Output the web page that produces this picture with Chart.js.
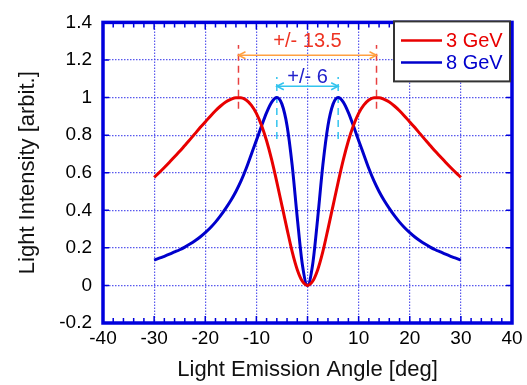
<!DOCTYPE html>
<html>
<head>
<meta charset="utf-8">
<script src="https://cdn.jsdelivr.net/npm/chart.js@4.4.1/dist/chart.umd.min.js"></script>
<style>
  html, body { margin: 0; padding: 0; background: #fff; }
  #wrap { width: 527px; height: 385px; }
</style>
</head>
<body>
<div id="wrap"><canvas id="myChart"></canvas></div>
<script>
// emission angle [deg]
const angles = [-30, -29, -28, -27, -26, -25, -24, -23, -22, -21, -20, -19, -18, -17, -16, -15, -14, -13, -12, -11,
  -10, -9, -8, -7, -6, -5, -4, -3, -2, -1, 0, 1, 2, 3, 4, 5, 6, 7, 8, 9, 10,
  11, 12, 13, 14, 15, 16, 17, 18, 19, 20, 21, 22, 23, 24, 25, 26, 27, 28, 29, 30];

// light intensity
const gev3 = [0.575, 0.601, 0.628, 0.656, 0.685, 0.714, 0.745, 0.776, 0.808, 0.84, 0.87, 0.901, 0.93, 0.955, 0.976,
  0.99, 0.999, 0.999, 0.987, 0.96, 0.916, 0.853, 0.77, 0.668, 0.55, 0.425, 0.30, 0.18, 0.084, 0.022, 0,
  0.022, 0.084, 0.18, 0.30, 0.425, 0.55, 0.668, 0.77, 0.853, 0.916, 0.96, 0.987, 0.999, 0.999, 0.99,
  0.976, 0.955, 0.93, 0.901, 0.87, 0.84, 0.808, 0.776, 0.745, 0.714, 0.685, 0.656, 0.628, 0.601, 0.575];
const gev8 = [0.135, 0.145, 0.155, 0.166, 0.178, 0.19, 0.204, 0.22, 0.238, 0.258, 0.281, 0.307, 0.337, 0.371, 0.41,
  0.452, 0.5, 0.556, 0.622, 0.697, 0.772, 0.848, 0.92, 0.976, 1.0, 0.965, 0.85, 0.64, 0.36, 0.11, 0,
  0.11, 0.36, 0.64, 0.85, 0.965, 1.0, 0.976, 0.92, 0.848, 0.772, 0.697, 0.622, 0.556, 0.5, 0.452,
  0.41, 0.371, 0.337, 0.307, 0.281, 0.258, 0.238, 0.22, 0.204, 0.19, 0.178, 0.166, 0.155, 0.145, 0.135];

const seriesNames = ['3 GeV', '8 GeV'];
const seriesColors = ['#e80000', '#0000cc'];

// peak-angle markers: half width, dashed line range, arrow level, label level
const markHalf = [13.5, 6];
const markLow = [0.94, 0.78];
const markHigh = [1.28, 1.11];
const arrowLevel = [1.225, 1.06];
const labelLevel = [1.30, 1.105];
const markLabels = ['+/- 13.5', '+/- 6'];
const dashColors = ['#e84040', '#33c4ee'];
const arrowColors = ['#ffa040', '#33c4ee'];
const labelColors = ['#ee3322', '#2222cc'];

const xTicks = [-40, 50, 10];
const yTicks = [-0.2, 1.4, 0.2];

const FONT = "'Liberation Sans', Arial, sans-serif";

function curve(vals) {
  return angles.map((a, i) => ({x: a, y: vals[i]}));
}

let datasets = [
  {data: curve(gev3), borderColor: seriesColors[0], borderWidth: 3, pointRadius: 0,
    cubicInterpolationMode: 'monotone', fill: false},
  {data: curve(gev8), borderColor: seriesColors[1], borderWidth: 3, pointRadius: 0,
    cubicInterpolationMode: 'monotone', fill: false},
];
for (let k = 0; k < markHalf.length; k++) {
  for (let s of [-1, 1]) {
    datasets.push({
      data: [{x: s * markHalf[k], y: markLow[k]}, {x: s * markHalf[k], y: markHigh[k]}],
      borderColor: dashColors[k], borderWidth: 1.5, borderDash: [7, 5], pointRadius: 0, fill: false,
    });
  }
  datasets.push({
    data: [{x: -markHalf[k], y: arrowLevel[k]}, {x: markHalf[k], y: arrowLevel[k]}],
    borderColor: arrowColors[k], borderWidth: 1.5, pointRadius: 0, fill: false,
  });
}

const overlay = {
  id: 'overlay',
  afterDatasetsDraw(chart) {
    const {ctx, chartArea: a, scales: {x, y}} = chart;
    ctx.save();

    // arrow heads
    for (let k = 0; k < markHalf.length; k++) {
      const yy = y.getPixelForValue(arrowLevel[k]);
      for (let s of [-1, 1]) {
        const xx = x.getPixelForValue(s * markHalf[k]);
        ctx.beginPath();
        ctx.moveTo(xx - s * 7, yy - 3.5);
        ctx.lineTo(xx, yy);
        ctx.lineTo(xx - s * 7, yy + 3.5);
        ctx.strokeStyle = arrowColors[k];
        ctx.lineWidth = 1.5;
        ctx.stroke();
      }
      ctx.font = '20px ' + FONT;
      ctx.fillStyle = labelColors[k];
      ctx.textAlign = 'center';
      ctx.textBaseline = 'middle';
      ctx.fillText(markLabels[k], x.getPixelForValue(0), y.getPixelForValue(labelLevel[k]));
    }

    // inward tick marks
    ctx.strokeStyle = '#0000dd';
    ctx.lineWidth = 1.5;
    for (let v = xTicks[0]; v <= xTicks[1] - xTicks[2]; v += 2) {
      const xx = x.getPixelForValue(v);
      const len = (v % 10 === 0) ? 7 : 5;
      ctx.beginPath();
      ctx.moveTo(xx, a.bottom); ctx.lineTo(xx, a.bottom - len);
      ctx.moveTo(xx, a.top); ctx.lineTo(xx, a.top + len);
      ctx.stroke();
    }
    for (let i = 0; i <= 8; i++) {
      const yy = y.getPixelForValue(yTicks[0] + i * yTicks[2]);
      ctx.beginPath();
      ctx.moveTo(a.left, yy); ctx.lineTo(a.left + 6, yy);
      ctx.moveTo(a.right, yy); ctx.lineTo(a.right - 6, yy);
      ctx.stroke();
    }

    // frame
    ctx.strokeStyle = '#0000dd';
    ctx.lineWidth = 3.5;
    ctx.strokeRect(a.left, a.top, a.right - a.left, a.bottom - a.top);

    // legend box
    const bx = a.right - 118, by = a.top - 1, bw = 116, bh = 60;
    ctx.fillStyle = '#fff';
    ctx.fillRect(bx, by, bw, bh);
    ctx.strokeStyle = '#333';
    ctx.lineWidth = 2;
    ctx.strokeRect(bx, by, bw, bh);
    ctx.font = '20px ' + FONT;
    ctx.textAlign = 'left';
    ctx.textBaseline = 'middle';
    for (let i = 0; i < seriesNames.length; i++) {
      const ly = by + 19 + i * 22;
      ctx.beginPath();
      ctx.moveTo(bx + 7, ly); ctx.lineTo(bx + 48, ly);
      ctx.strokeStyle = seriesColors[i];
      ctx.lineWidth = 2.5;
      ctx.stroke();
      ctx.fillStyle = seriesColors[i];
      ctx.fillText(seriesNames[i], bx + 52, ly + 1);
    }
    ctx.restore();
  }
};

new Chart(document.getElementById('myChart'), {
  type: 'line',
  data: {datasets: datasets},
  options: {
    responsive: true,
    maintainAspectRatio: false,
    animation: false,
    layout: {padding: {left: 0, top: 20, right: 15, bottom: 0}},
    plugins: {legend: {display: false}, tooltip: {enabled: false}},
    scales: {
      x: {
        type: 'linear',
        min: xTicks[0], max: xTicks[1] - xTicks[2],
        afterFit: s => { s.height = 62; },
        ticks: {stepSize: xTicks[2], color: '#000', padding: 4, font: {family: FONT, size: 19}},
        grid: {color: 'rgba(60,60,235,0.85)', lineWidth: 1.2, drawTicks: false},
        border: {display: false, dash: [1.5, 1.5]},
        title: {display: true, text: 'Light Emission Angle [deg]', color: '#111',
          font: {family: FONT, size: 22}, padding: {top: 0, bottom: 2}},
      },
      y: {
        min: yTicks[0], max: yTicks[1],
        afterFit: s => { s.width = 103; },
        ticks: {stepSize: yTicks[2], color: '#000', padding: 11, font: {family: FONT, size: 19},
          callback: v => Math.round(v * 10) / 10},
        grid: {color: 'rgba(60,60,235,0.85)', lineWidth: 1.2, drawTicks: false},
        border: {display: false, dash: [1.5, 1.5]},
        title: {display: true, text: 'Light Intensity [arbit.]', color: '#111',
          font: {family: FONT, size: 22}, padding: {top: 15, bottom: 0}},
      }
    }
  },
  plugins: [overlay]
});
</script>
</body>
</html>
